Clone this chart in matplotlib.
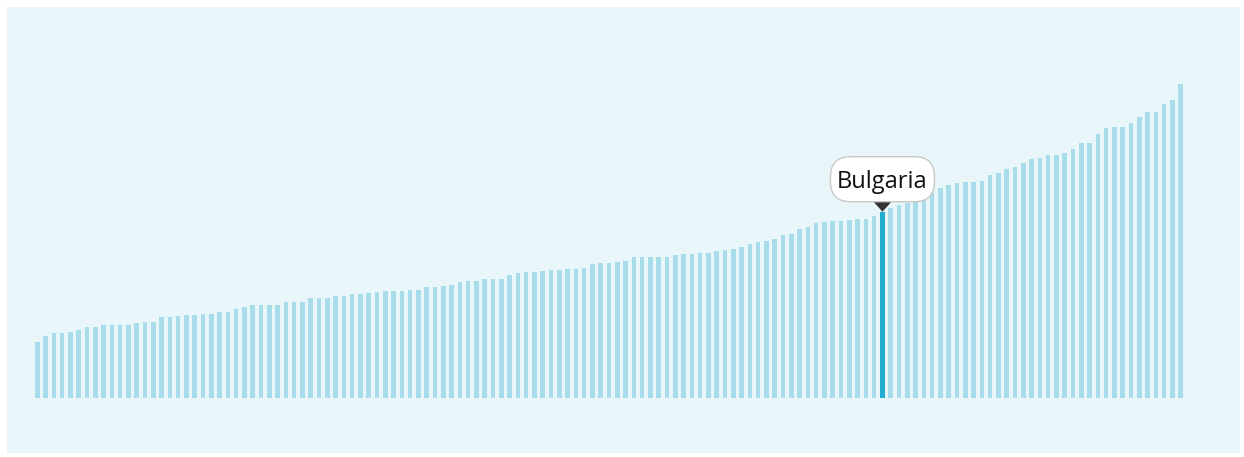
import matplotlib
matplotlib.use("Agg")
import matplotlib.pyplot as plt
from matplotlib.patches import FancyBboxPatch, Polygon

# Country values, sorted ascending
values = [
    56.6, 62.3, 65.0, 65.3, 66.6, 68.6, 71.6, 71.6, 73.6, 73.6,
    73.6, 73.6, 75.0, 76.0, 76.0, 81.3, 81.3, 82.6, 83.0, 83.6,
    84.3, 84.6, 86.3, 86.6, 89.3, 91.3, 93.6, 93.6, 93.6, 93.6,
    96.0, 96.0, 96.0, 100.0, 100.0, 100.0, 102.0, 102.0, 104.3, 104.3,
    105.0, 106.3, 107.3, 107.3, 107.3, 108.8, 108.8, 111.3, 111.3, 112.6,
    113.6, 116.3, 117.6, 117.6, 119.6, 119.6, 119.6, 123.6, 125.6, 126.3,
    126.3, 127.3, 128.3, 128.3, 129.0, 129.6, 130.6, 134.3, 135.3, 135.6,
    136.6, 137.3, 141.0, 141.0, 141.0, 141.0, 141.0, 143.3, 144.0, 144.0,
    145.0, 145.6, 147.6, 148.3, 149.0, 151.0, 154.6, 156.6, 157.3, 159.6,
    163.3, 164.6, 169.0, 171.6, 175.0, 176.6, 177.3, 177.6, 178.3, 179.3,
    179.8, 182.0, 186.6, 190.8, 193.0, 195.6, 198.3, 201.8, 205.8, 210.8,
    213.3, 215.0, 216.0, 216.6, 217.0, 223.8, 225.0, 229.0, 231.0, 235.0,
    239.0, 240.0, 243.3, 243.3, 245.6, 249.0, 255.6, 255.6, 264.3, 270.0,
    271.0, 271.6, 275.0, 281.6, 286.0, 286.0, 294.3, 298.3, 314.3,
]
highlight_label = "Bulgaria"
highlight_index = 102

W, H, DPI = 1244, 457, 100
fig = plt.figure(figsize=(W / DPI, H / DPI), dpi=DPI, facecolor="white")

# panel occupying (7,7)-(1240,453) in image pixels
left, top, right, bottom = 7, 7, 1240, 453
ax = fig.add_axes([left / W, (H - bottom) / H, (right - left) / W, (bottom - top) / H])
ax.set_facecolor("#e8f6fa")
for s in ax.spines.values():
    s.set_visible(False)
ax.set_xticks([])
ax.set_yticks([])

# bar k centre at 37.3 + 8.286 k px, baseline at 398.3 px
pitch = 8.286
x0 = 37.3
ax.set_xlim((left - x0) / pitch, (right - x0) / pitch)
base = 398.3
ax.set_ylim(base - bottom, base - top)

xs = list(range(len(values)))
colors = ["#a9dcea"] * len(values)
colors[highlight_index] = "#22afcf"
ax.bar(xs, values, width=0.55, color=colors, linewidth=0)

# callout above the highlighted bar
fig.canvas.draw()
px, py = ax.transData.transform((highlight_index, values[highlight_index]))
tri = Polygon([(px - 9, py + 10), (px + 9, py + 10), (px, py)],
              closed=True, transform=None, facecolor="#333333",
              edgecolor="none", zorder=5)
fig.patches.append(tri)

bw, bh = 104, 45
by = py + 10
bubble = FancyBboxPatch((px - bw / 2, by), bw, bh,
                        boxstyle="round,pad=0,rounding_size=20",
                        transform=None, facecolor="white",
                        edgecolor="#c8c8c8", linewidth=1.0, zorder=6)
fig.patches.append(bubble)
fig.text(px / W, (by + 13.7) / H, highlight_label, ha="center", va="baseline",
         fontsize=17, family=["Open Sans", "DejaVu Sans"], color="#111111",
         zorder=7)

fig.savefig("out.png", dpi=DPI, facecolor="white")
